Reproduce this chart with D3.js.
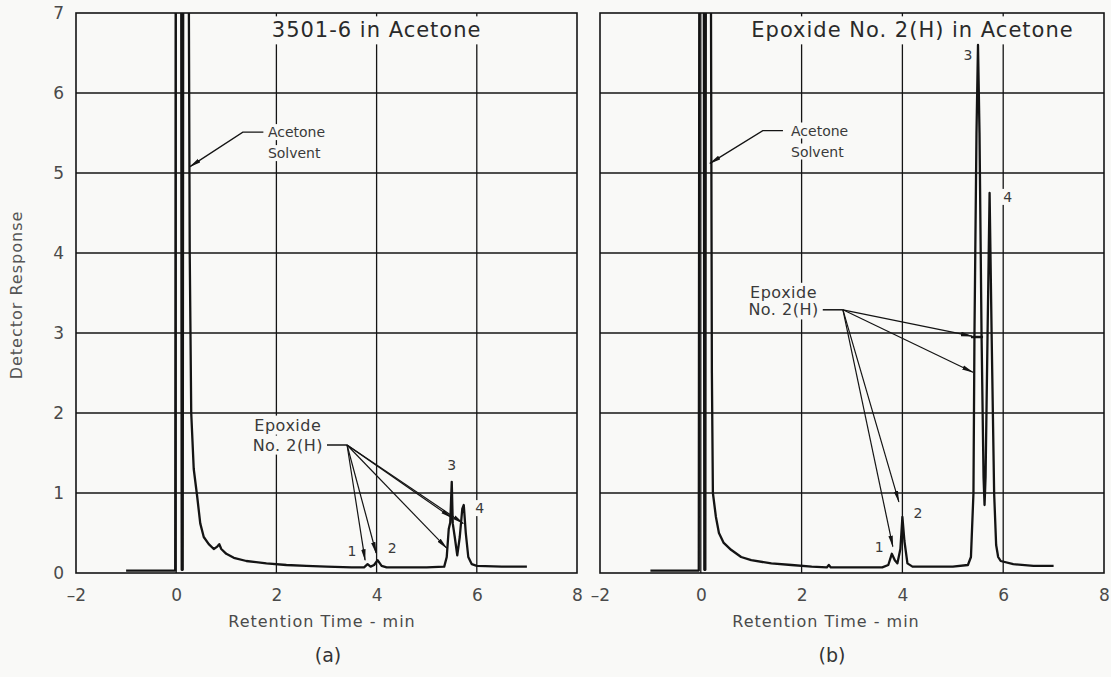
<!DOCTYPE html>
<html>
<head>
<meta charset="utf-8">
<script src="https://cdn.jsdelivr.net/npm/d3@7"></script>
<style>
  body { margin: 0; background: #f9f9f7; }
  svg { display: block; font-family: "DejaVu Sans", sans-serif; }
</style>
</head>
<body>
<svg width="1111" height="677"></svg>
<script>
// values
var xTicks = [-2, 0, 2, 4, 6, 8];
var yTicks = [0, 1, 2, 3, 4, 5, 6, 7];
var gridX = [0, 2, 4, 6];
var gridY = [1, 2, 3, 4, 5, 6];

var titles = ["3501-6 in Acetone", "Epoxide No. 2(H) in Acetone"];
var panelTags = ["(a)", "(b)"];
var peakNames = ["1", "2", "3", "4"];

// (a) 3501-6 in acetone
var traceA = [
  [-1.0, 0.03], [-0.5, 0.03], [-0.02, 0.03], [-0.01, 7.6], [0.1, 7.6], [0.11, 0.04],
  [0.13, 0.04], [0.14, 7.6], [0.25, 7.6], [0.27, 4.0], [0.3, 2.0], [0.35, 1.3],
  [0.42, 0.95], [0.48, 0.62], [0.55, 0.45], [0.65, 0.36], [0.75, 0.3], [0.82, 0.33],
  [0.86, 0.36], [0.9, 0.3], [1.0, 0.24], [1.15, 0.19], [1.4, 0.15], [1.8, 0.12],
  [2.2, 0.1], [2.6, 0.09], [3.0, 0.08], [3.5, 0.07], [3.75, 0.07], [3.82, 0.11],
  [3.88, 0.08], [3.95, 0.1], [4.02, 0.16], [4.1, 0.09], [4.2, 0.07], [5.0, 0.07],
  [5.35, 0.08], [5.4, 0.2], [5.44, 0.55], [5.47, 0.63], [5.5, 1.14], [5.52, 0.62],
  [5.56, 0.45], [5.61, 0.22], [5.66, 0.45], [5.71, 0.8], [5.74, 0.85], [5.78, 0.5],
  [5.83, 0.2], [5.9, 0.11], [6.0, 0.09], [6.5, 0.08], [7.0, 0.08]
];
var peakLabelA = [[3.51, 0.27], [4.31, 0.31], [5.5, 1.35], [6.06, 0.81]];
var epoxideTargetsA = [[3.77, 0.16], [3.99, 0.25], [5.4, 0.31], [5.5, 0.69], [5.73, 0.62]];

// (b) epoxide No. 2(H) in acetone
var traceB = [
  [-1.0, 0.03], [-0.04, 0.03], [-0.03, 7.6], [0.06, 7.6], [0.07, 0.04], [0.09, 0.04],
  [0.1, 7.6], [0.2, 7.6], [0.22, 2.5], [0.24, 1.0], [0.3, 0.7], [0.36, 0.5],
  [0.45, 0.38], [0.6, 0.29], [0.8, 0.2], [1.0, 0.16], [1.4, 0.12], [1.8, 0.1],
  [2.2, 0.08], [2.5, 0.07], [2.54, 0.1], [2.58, 0.07], [3.0, 0.07], [3.6, 0.07],
  [3.72, 0.1], [3.79, 0.24], [3.85, 0.16], [3.9, 0.12], [3.96, 0.3], [4.0, 0.7],
  [4.04, 0.4], [4.1, 0.12], [4.2, 0.08], [5.0, 0.08], [5.3, 0.1], [5.36, 0.2],
  [5.41, 1.0], [5.43, 3.0], [5.47, 5.5], [5.5, 6.6], [5.53, 5.5], [5.57, 3.0],
  [5.61, 1.2], [5.63, 0.85], [5.65, 1.2], [5.69, 3.0], [5.73, 4.75], [5.77, 3.0],
  [5.82, 1.0], [5.86, 0.35], [5.9, 0.2], [5.95, 0.15], [6.2, 0.11], [6.6, 0.09], [7.0, 0.09]
];
var peakLabelB = [[3.54, 0.33], [4.31, 0.75], [5.3, 6.48], [6.09, 4.7]];
var epoxideTargetsB = [[3.81, 0.33], [3.93, 0.89], [5.38, 2.96], [5.40, 2.51]];

var panels = [
  { left: 76, right: 577, trace: traceA, title: titles[0], titleX: 4.0, tag: panelTags[0],
    labelX: 322, peaks: peakLabelA, targets: epoxideTargetsA, yLabels: true,
    solvent: { tip: [0.275, 5.08], elbow: [1.33, 5.51], end: [1.74, 5.51], textX: 1.83 },
    epoxide: { textX: 2.93, origin: [3.41, 1.6], dash: 3.01, y1: 1.85, y2: 1.6 } },
  { left: 600, right: 1104, trace: traceB, title: titles[1], titleX: 4.2, tag: panelTags[1],
    labelX: 826, peaks: peakLabelB, targets: epoxideTargetsB, yLabels: false,
    solvent: { tip: [0.18, 5.12], elbow: [1.23, 5.53], end: [1.63, 5.53], textX: 1.79 },
    epoxide: { textX: 2.34, origin: [2.82, 3.29], dash: 2.42, y1: 3.51, y2: 3.29 },
    bar: [[5.36, 2.95], [5.6, 2.95]] }
];

var plotTop = 13, plotBottom = 573;
var bgColor = "#f9f9f7", ink = "#141414", textInk = "#3a3a3a";

var svg = d3.select("svg");
var defs = svg.append("defs");
defs.append("marker")
    .attr("id", "arrow")
    .attr("markerUnits", "userSpaceOnUse")
    .attr("markerWidth", 12).attr("markerHeight", 6)
    .attr("refX", 11).attr("refY", 3)
    .attr("orient", "auto")
  .append("path")
    .attr("d", "M0,0.8 L12,3 L0,5.2 Z")
    .attr("fill", ink);

var y = d3.scaleLinear().domain([0, 7]).range([plotBottom, plotTop]);

// text with a paper-coloured box behind it that knocks out the grid
function boxedText(layer, bgLayer, x0, y0, str, size, anchor, pad, spacing) {
  var t = layer.append("text")
      .attr("x", x0).attr("y", y0)
      .attr("dy", "0.35em")
      .attr("text-anchor", anchor)
      .attr("font-size", size)
      .attr("letter-spacing", spacing || 0)
      .attr("fill", textInk)
      .text(str);
  var b = t.node().getBBox();
  bgLayer.append("rect")
      .attr("x", b.x - pad).attr("y", b.y - pad + 2)
      .attr("width", b.width + 2 * pad).attr("height", b.height + 2 * pad - 4)
      .attr("fill", bgColor);
  return t;
}

panels.forEach(function (p, i) {
  var x = d3.scaleLinear().domain([-2, 8]).range([p.left, p.right]);
  var g = svg.append("g").attr("class", "panel-" + i);

  g.append("clipPath").attr("id", "clip" + i)
    .append("rect")
      .attr("x", p.left).attr("y", plotTop)
      .attr("width", p.right - p.left).attr("height", plotBottom - plotTop);

  // grid
  var grid = g.append("g").attr("class", "grid");
  grid.selectAll("line.vx").data(gridX).enter().append("line")
      .attr("x1", function (d) { return x(d); }).attr("x2", function (d) { return x(d); })
      .attr("y1", plotTop).attr("y2", plotBottom)
      .attr("stroke", ink).attr("stroke-width", 1.3);
  grid.selectAll("line.hy").data(gridY).enter().append("line")
      .attr("x1", p.left).attr("x2", p.right)
      .attr("y1", function (d) { return y(d); }).attr("y2", function (d) { return y(d); })
      .attr("stroke", ink).attr("stroke-width", 1.3);

  var bg = g.append("g").attr("class", "bg");
  g.append("rect")
      .attr("x", p.left).attr("y", plotTop)
      .attr("width", p.right - p.left).attr("height", plotBottom - plotTop)
      .attr("fill", "none").attr("stroke", ink).attr("stroke-width", 1.6);
  var traceLayer = g.append("g").attr("clip-path", "url(#clip" + i + ")");
  var annot = g.append("g").attr("class", "annot");

  // axes
  var xAxis = d3.axisBottom(x).tickValues(xTicks).tickSize(0).tickPadding(16)
      .tickFormat(function (d) { return d < 0 ? "\u2013" + Math.abs(d) : d; });
  var ax = g.append("g").attr("transform", "translate(0," + plotBottom + ")").call(xAxis);
  ax.select(".domain").remove();
  ax.selectAll("text").attr("font-size", 17).attr("fill", "#4a4a4a")
      .attr("font-family", "DejaVu Sans");

  if (p.yLabels) {
    var yAxis = d3.axisLeft(y).tickValues(yTicks).tickSize(0).tickPadding(12)
        .tickFormat(d3.format("d"));
    var ay = g.append("g").attr("transform", "translate(" + p.left + ",0)").call(yAxis);
    ay.select(".domain").remove();
    ay.selectAll("text").attr("font-size", 17).attr("fill", "#4a4a4a")
        .attr("font-family", "DejaVu Sans");
    g.append("text")
        .attr("transform", "translate(16,295) rotate(-90)")
        .attr("text-anchor", "middle").attr("dy", "0.35em")
        .attr("font-size", 16).attr("letter-spacing", 1)
        .attr("fill", "#555").text("Detector Response");
  }

  g.append("text")
      .attr("x", p.labelX).attr("y", 621).attr("dy", "0.35em")
      .attr("text-anchor", "middle").attr("font-size", 16).attr("letter-spacing", 1)
      .attr("fill", "#4a4a4a").text("Retention Time - min");
  g.append("text")
      .attr("x", p.labelX + 6).attr("y", 655).attr("dy", "0.35em")
      .attr("text-anchor", "middle").attr("font-size", 19)
      .attr("fill", "#333").text(p.tag);

  // title
  boxedText(annot, bg, x(p.titleX), 30, p.title, 21, "middle", 4, 1)
      .attr("fill", "#2a2a2a");

  // chromatogram trace
  var line = d3.line()
      .x(function (d) { return x(d[0]); })
      .y(function (d) { return y(d[1]); });
  traceLayer.append("path")
      .datum(p.trace)
      .attr("d", line)
      .attr("fill", "none")
      .attr("stroke", ink)
      .attr("stroke-width", 2.3)
      .attr("stroke-linejoin", "round");

  // acetone solvent callout
  var s = p.solvent;
  annot.append("path")
      .attr("d", d3.line()([[x(s.end[0]), y(s.end[1])], [x(s.elbow[0]), y(s.elbow[1])], [x(s.tip[0]), y(s.tip[1])]]))
      .attr("fill", "none").attr("stroke", ink).attr("stroke-width", 1.3)
      .attr("marker-end", "url(#arrow)");
  boxedText(annot, bg, x(s.textX), y(s.elbow[1]), "Acetone", 14, "start", 2);
  boxedText(annot, bg, x(s.textX), y(s.elbow[1]) + 21, "Solvent", 14, "start", 2);

  // epoxide callout: two centred lines ending at the leader dash
  var e = p.epoxide;
  var t2 = boxedText(annot, bg, x(e.textX), y(e.y2), "No. 2(H)", 16, "end", 2, 0.5);
  var w2 = t2.node().getBBox();
  boxedText(annot, bg, w2.x + w2.width / 2, y(e.y1), "Epoxide", 16, "middle", 2, 0.5);
  annot.append("line")
      .attr("x1", x(e.dash)).attr("x2", x(e.origin[0]))
      .attr("y1", y(e.origin[1])).attr("y2", y(e.origin[1]))
      .attr("stroke", ink).attr("stroke-width", 1.5);
  annot.selectAll("line.arr").data(p.targets).enter().append("line")
      .attr("class", "arr")
      .attr("x1", x(e.origin[0])).attr("y1", y(e.origin[1]))
      .attr("x2", function (d) { return x(d[0]); })
      .attr("y2", function (d) { return y(d[1]); })
      .attr("stroke", ink).attr("stroke-width", 1.2)
      .attr("marker-end", "url(#arrow)");
  if (p.bar) {
    annot.append("line")
        .attr("x1", x(p.bar[0][0])).attr("x2", x(p.bar[1][0]))
        .attr("y1", y(p.bar[0][1])).attr("y2", y(p.bar[1][1]))
        .attr("stroke", ink).attr("stroke-width", 2.5);
  }

  // peak numbers
  p.peaks.forEach(function (d, k) {
    boxedText(annot, bg, x(d[0]), y(d[1]), peakNames[k], 14, "middle", 2);
  });
});
</script>
</body>
</html>
